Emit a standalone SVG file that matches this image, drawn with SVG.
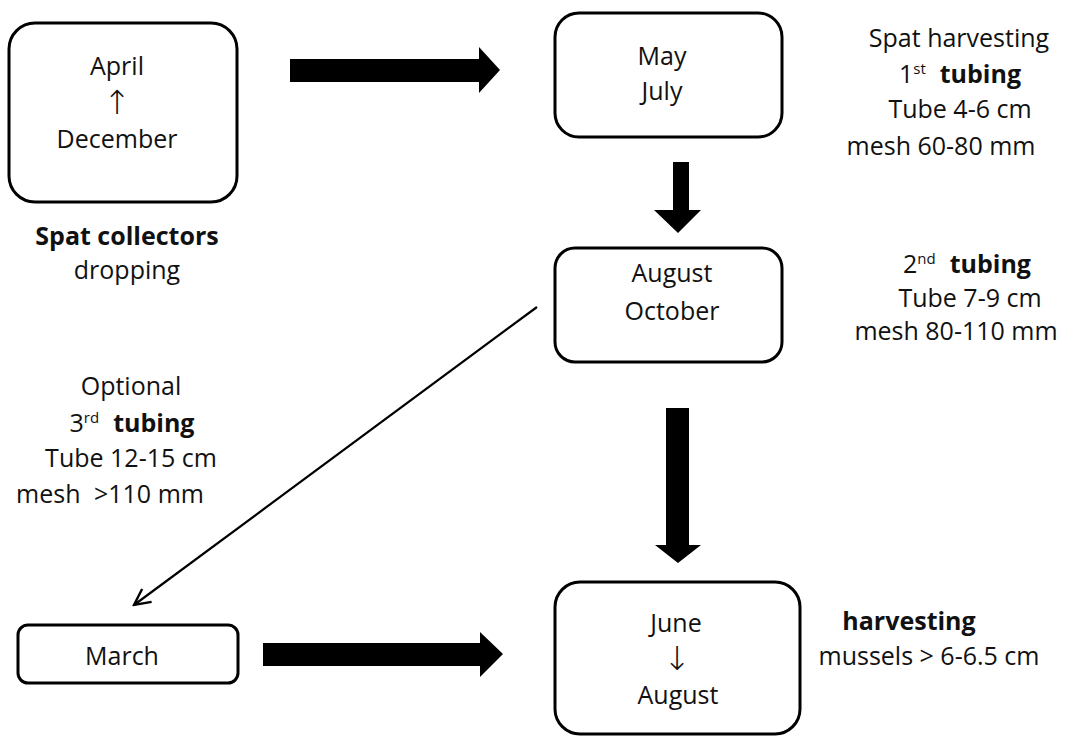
<svg xmlns="http://www.w3.org/2000/svg" width="1067" height="736" viewBox="0 0 1067 736">
<defs>
<style>
.box{fill:#fff;stroke:#000;stroke-width:3}
.t{font-family:"Open Sans","DejaVu Sans",sans-serif;font-size:25px;fill:#111;text-anchor:middle}
.b{font-weight:bold}
.sup{font-size:15px}
.arr{font-family:"DejaVu Sans",sans-serif;font-size:33px;font-weight:200;fill:#111;text-anchor:middle}
.big{fill:#000}
.thin{stroke:#000;stroke-width:2.2;fill:none}
</style>
<marker id="open" viewBox="0 0 20 20" refX="18" refY="10" markerWidth="20" markerHeight="20" markerUnits="userSpaceOnUse" orient="auto">
<path d="M2,2 L18,10 L2,18" fill="none" stroke="#000" stroke-width="2.4"/>
</marker>
</defs>
<rect width="1067" height="736" fill="#fff"/>

<g id="connectors">
<polygon class="big" points="290,59 479,59 479,47 500,70 479,93 479,82 290,82"/>
<polygon class="big" points="673,162 689,162 689,210 701,210 678,233 654,210 673,210"/>
<polygon class="big" points="666,408 689,408 689,545 701,545 678,563 655,545 666,545"/>
<polygon class="big" points="263,643 480,643 480,632 503,654 480,677 480,666 263,666"/>
<line class="thin" x1="537" y1="307" x2="134" y2="605" marker-end="url(#open)"/>
</g>

<g id="node-april">
<rect class="box" x="9" y="23" width="228" height="179" rx="26"/>
<text class="t" x="117" y="75">April</text>
<text class="arr" x="117" y="114">↑</text>
<text class="t" x="117" y="148">December</text>
</g>

<g id="label-spat-collectors">
<text class="t b" x="127" y="245">Spat collectors</text>
<text class="t" x="127" y="279">dropping</text>
</g>

<g id="node-may">
<rect class="box" x="555" y="13" width="227" height="124" rx="24"/>
<text class="t" x="662" y="65">May</text>
<text class="t" x="662" y="100">July</text>
</g>

<g id="label-first-tubing">
<text class="t" x="959" y="47">Spat harvesting</text>
<text class="t" x="960" y="83">1<tspan class="sup" dy="-9">st</tspan><tspan class="b" dy="9" dx="14">tubing</tspan></text>
<text class="t" x="960" y="118">Tube 4-6 cm</text>
<text class="t" x="941" y="155">mesh 60-80 mm</text>
</g>

<g id="node-august-october">
<rect class="box" x="555" y="248" width="227" height="114" rx="20"/>
<text class="t" x="672" y="282">August</text>
<text class="t" x="672" y="320">October</text>
</g>

<g id="label-second-tubing">
<text class="t" x="967" y="273">2<tspan class="sup" dy="-9">nd</tspan><tspan class="b" dy="9" dx="14">tubing</tspan></text>
<text class="t" x="970" y="307">Tube 7-9 cm</text>
<text class="t" x="956" y="340">mesh 80-110 mm</text>
</g>

<g id="label-third-tubing">
<text class="t" x="131" y="395">Optional</text>
<text class="t" x="132" y="432">3<tspan class="sup" dy="-9">rd</tspan><tspan class="b" dy="9" dx="14">tubing</tspan></text>
<text class="t" x="131" y="467">Tube 12-15 cm</text>
<text class="t" x="110" y="503">mesh <tspan dx="7">&gt;110 mm</tspan></text>
</g>

<g id="node-march">
<rect class="box" x="18" y="625" width="220" height="58" rx="10"/>
<text class="t" x="122" y="665">March</text>
</g>

<g id="node-june-august">
<rect class="box" x="555" y="582" width="245" height="152" rx="25"/>
<text class="t" x="676" y="632">June</text>
<text class="arr" x="677" y="670">↓</text>
<text class="t" x="678" y="704">August</text>
</g>

<g id="label-harvesting">
<text class="t b" x="909" y="630">harvesting</text>
<text class="t" x="929" y="665">mussels &gt; 6-6.5 cm</text>
</g>
</svg>
